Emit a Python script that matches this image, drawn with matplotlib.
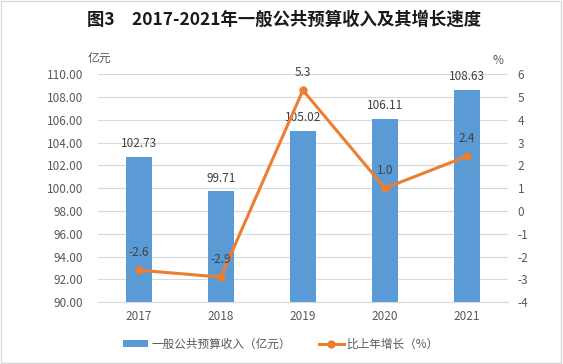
import matplotlib.pyplot as plt
from matplotlib.patches import Rectangle

plt.rcParams['font.family'] = ['Noto Sans CJK SC', 'DejaVu Sans']
plt.rcParams['axes.unicode_minus'] = False

years = ['2017', '2018', '2019', '2020', '2021']
revenue = [102.73, 99.71, 105.02, 106.11, 108.63]
growth = [-2.6, -2.9, 5.3, 1.0, 2.4]
growth_labels = ['-2.6', '-2.9', '5.3', '1.0', '2.4']

bar_color = '#5B9BD5'
line_color = '#ED7D31'
txt = '#595959'

fig = plt.figure(figsize=(5.63, 3.64), dpi=100)
ax = fig.add_axes([0.174, 0.170, 0.728, 0.626])
ax2 = ax.twinx()

x = range(len(years))
ax.bar(x, revenue, width=0.31, color=bar_color, zorder=2, label='一般公共预算收入（亿元）')
ax.set_ylim(90, 110)
ax.set_yticks([90 + 2 * i for i in range(11)])
ax.set_yticklabels(['%.2f' % (90 + 2 * i) for i in range(11)])
ax.set_xlim(-0.5, 4.5)
ax.set_xticks(list(x))
ax.set_xticklabels(years)
ax.yaxis.grid(True, color='#D9D9D9', lw=0.8, zorder=0)
ax.set_axisbelow(True)
for a in (ax, ax2):
    for s in a.spines.values():
        s.set_visible(False)
    a.tick_params(length=0, colors=txt, labelsize=8.5)
ax.spines['bottom'].set_visible(True)
ax.spines['bottom'].set_color('#D9D9D9')
ax.tick_params(axis='x', pad=6)
ax.tick_params(axis='y', pad=10.5)
ax2.tick_params(axis='y', pad=7)

for i, v in enumerate(revenue):
    ax.annotate('%.2f' % v, (i, v), xytext=(0, 9.5), textcoords='offset points',
                ha='center', va='center', fontsize=8.5, color='#404040')

ax2.plot(list(x), growth, color=line_color, lw=2.2, marker='o', ms=5, zorder=3, label='比上年增长（%）')
ax2.set_ylim(-4, 6)
ax2.set_yticks(range(-4, 7))
for i, v in enumerate(growth):
    ax2.annotate(growth_labels[i], (i, v), xytext=(0, 12.5), textcoords='offset points',
                 ha='center', va='center', fontsize=8.5, color='#404040')

fig.text(99 / 563, 1 - 58 / 364, '亿元', fontsize=8.5, color=txt, ha='center', va='center')
fig.text(498 / 563, 1 - 61 / 364, '%', fontsize=8.5, color=txt, ha='center', va='center')

fig.text(0.504, 0.945, '图3　2017-2021年一般公共预算收入及其增长速度', fontsize=12.5,
         fontweight='bold', ha='center', va='center', color='#1a1a1a')

h1, l1 = ax.get_legend_handles_labels()
h2, l2 = ax2.get_legend_handles_labels()
fig.legend(h1 + h2, l1 + l2, loc='center', bbox_to_anchor=(0.499, 1 - 344 / 364), ncol=2,
           frameon=False, fontsize=8.4, labelcolor=txt, handlelength=2.2,
           handletextpad=0.25, columnspacing=2.4, handleheight=0.6)

fig.patches.append(Rectangle((0.002, 0.003), 0.995, 0.994, transform=fig.transFigure,
                             fill=False, edgecolor='#D9D9D9', lw=1))

fig.savefig('out.png', dpi=100)
